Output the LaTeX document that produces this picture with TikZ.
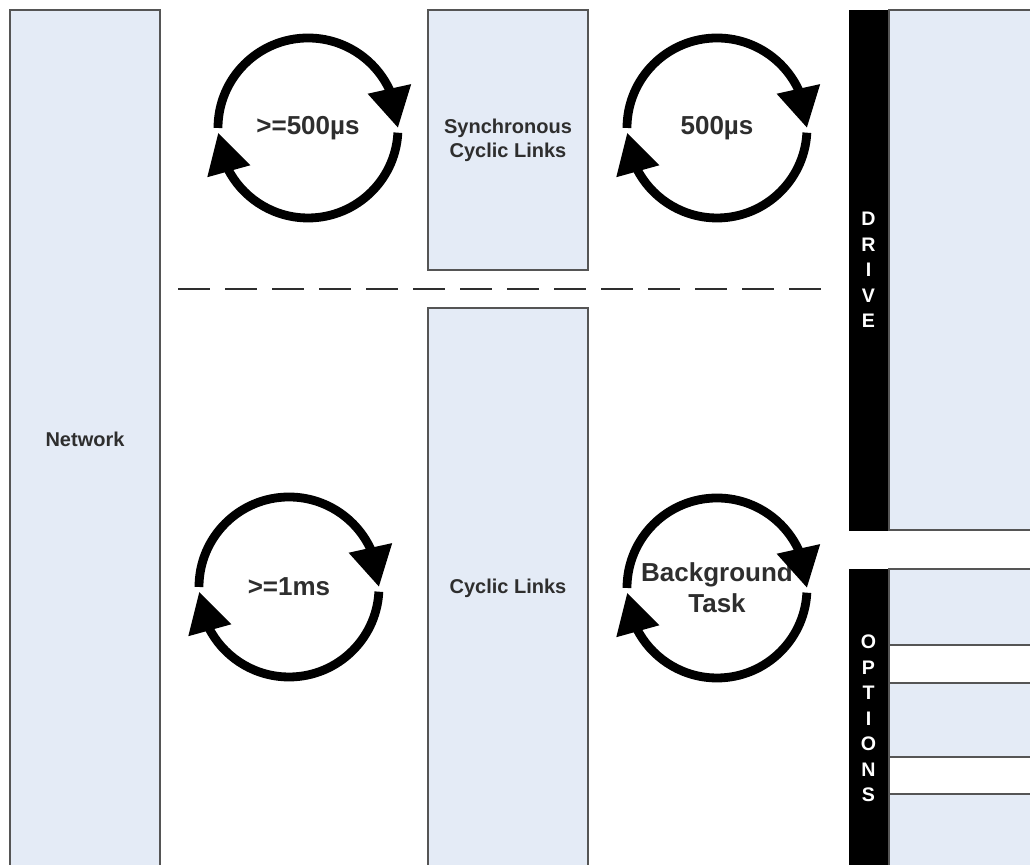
\documentclass[tikz,border=0pt]{standalone}
\usepackage{fontspec}
\setmainfont{Liberation Sans}
\usepackage{xcolor}
\usetikzlibrary{arrows.meta, bending}

\definecolor{panelfill}{HTML}{E4EBF6}
\definecolor{panelline}{HTML}{555555}
\definecolor{labeltext}{HTML}{2E2E2E}

\begin{document}
\begin{tikzpicture}[x=0.5pt, y=0.5pt,
  panel/.style={draw=panelline, line width=0.8pt, fill=panelfill, inner sep=0pt, align=center,
    font=\bfseries\fontsize{10}{12}\selectfont, text=labeltext},
  sidebar/.style={draw=black, fill=black, inner sep=0pt, align=center, text=white,
    font=\bfseries\fontsize{9.8}{12.75}\selectfont},
  strip/.style={draw=panelline, line width=0.8pt, fill=white, inner sep=0pt},
  cyctext/.style={align=center, text=labeltext, font=\bfseries\fontsize{13}{15.5}\selectfont},
  cycarrow/.style={line width=4.4pt, -{Triangle[length=20pt, width=21pt]}}]
\clip (0,0) rectangle (1030,865);
\fill[white] (0,0) rectangle (1030,865);
\node[panel, minimum width=75pt, minimum height=429pt] (network) at (85,426) {Network};
\node[panel, minimum width=80pt, minimum height=130pt] (synclinks) at (508,725) {Synchronous\\Cyclic Links};
\node[panel, minimum width=80pt, minimum height=280pt] (cycliclinks) at (508,277) {Cyclic Links};
\node[sidebar, minimum width=19.5pt, minimum height=260pt] (drive) at (868.5,595) {D\\R\\I\\V\\E};
\node[panel, anchor=west, minimum width=80pt, minimum height=260pt] (drivebox) at (drive.east) {};
\node[sidebar, minimum width=19.5pt, minimum height=149.5pt] (options) at (868.5,146.5) {O\\P\\T\\I\\O\\N\\S};
\node[panel, anchor=west, minimum width=80pt, minimum height=149.5pt] (optionsbox) at (options.east) {};
\node[strip, anchor=north west, minimum width=80pt, minimum height=19pt] (stripa) at (888,221) {};
\node[strip, anchor=north west, minimum width=80pt, minimum height=18.5pt] (stripb) at (888,109) {};
\coordinate (dashl) at (178,576);
\coordinate (dashr) at (830,576);
\draw[line width=1pt, draw=labeltext, dash pattern=on 16pt off 7.5pt] (dashl) -- (dashr);
\node[cyctext] (fastloop) at (308,737) {>=500µs};
\node[cyctext] (driveloop) at (717,737) {500µs};
\node[cyctext] (slowloop) at (289,278) {>=1ms};
\node[cyctext] (bgloop) at (717,277) {Background\\Task};
\foreach \c in {fastloop, driveloop, slowloop, bgloop} {
  \draw[cycarrow] ([shift={(180:45pt)}]\c.center) arc[start angle=180, end angle=0, radius=45pt];
  \draw[cycarrow] ([shift={(-3:45pt)}]\c.center) arc[start angle=-3, end angle=-177, radius=45pt];
}
\end{tikzpicture}
\end{document}
